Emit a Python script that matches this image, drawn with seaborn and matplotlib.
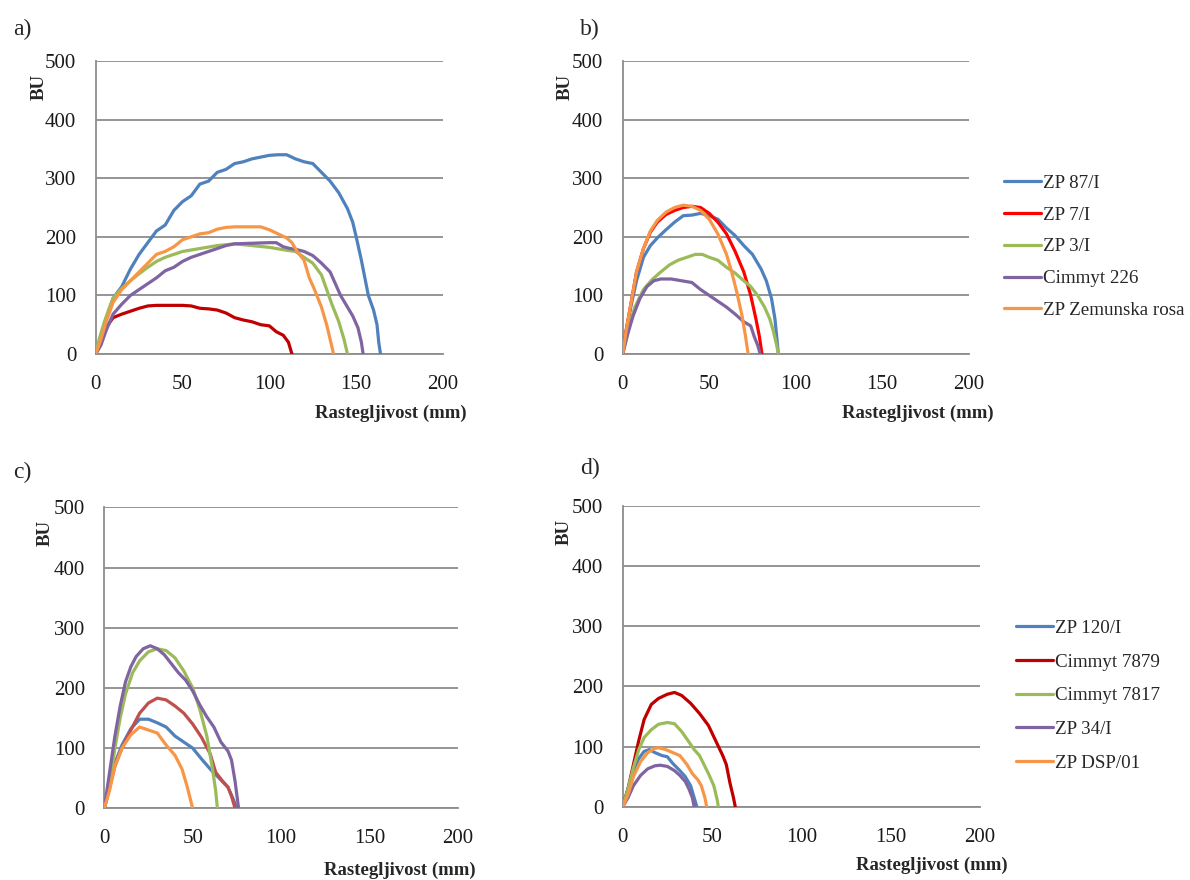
import numpy as np
import pandas as pd
import matplotlib
matplotlib.use("Agg")
import matplotlib.pyplot as plt
import seaborn as sns

# ---- donnees (x = rastegljivost mm, y = BU) ----
# a)
a_names = ["ZP 87/I", "ZP 7/I", "ZP 3/I", "Cimmyt 226", "ZP Zemunska rosa"]
a_87_x = [0, 5, 10, 15, 20, 25, 30, 35, 40, 45, 50, 55, 60, 65, 70, 75, 80, 85, 90, 95, 100, 105, 110,
          115, 120, 125, 130, 135, 140, 145, 148, 150, 153, 155, 157, 160, 162, 163, 164]
a_87_y = [0, 50, 95, 115, 145, 170, 190, 210, 220, 245, 260, 270, 290, 295, 310, 315, 325, 328, 333, 336, 339, 340, 340,
          333, 328, 325, 310, 295, 275, 248, 225, 200, 160, 130, 100, 75, 50, 20, 0]
a_7_x = [0, 3, 6, 10, 15, 20, 25, 30, 35, 40, 50, 55, 60, 65, 70, 75, 80, 85, 90, 95, 100, 104, 108, 111, 112, 113]
a_7_y = [0, 20, 45, 62, 68, 73, 78, 82, 83, 83, 83, 82, 78, 77, 75, 70, 62, 58, 55, 50, 48, 38, 32, 20, 10, 0]
a_3_x = [0, 2, 5, 8, 10, 15, 20, 25, 30, 35, 40, 45, 50, 60, 70, 80, 90, 100, 110, 115, 120, 125, 130, 133, 136, 140, 143, 145]
a_3_y = [0, 25, 55, 80, 95, 112, 125, 137, 148, 158, 165, 170, 175, 180, 185, 188, 185, 182, 177, 175, 165, 155, 135, 110, 85, 55, 25, 0]
a_226_x = [0, 3, 6, 10, 15, 20, 25, 30, 35, 40, 45, 50, 55, 60, 65, 70, 75, 80, 90, 100, 104, 108, 112, 116,
           120, 125, 130, 135, 138, 141, 145, 148, 151, 153, 154]
a_226_y = [0, 15, 40, 68, 85, 100, 110, 120, 130, 142, 148, 158, 165, 170, 175, 180, 185, 188, 189, 190, 190, 183, 180, 178,
           175, 168, 155, 140, 120, 100, 80, 65, 45, 20, 0]
a_zr_x = [0, 3, 6, 10, 15, 20, 25, 30, 35, 40, 45, 50, 55, 60, 65, 70, 75, 80, 90, 95, 100, 105, 110, 113,
          116, 120, 123, 126, 130, 133, 135, 137]
a_zr_y = [0, 25, 55, 88, 110, 125, 140, 155, 170, 175, 183, 195, 200, 205, 207, 213, 216, 217, 217, 217, 212, 205, 198, 190,
          175, 160, 130, 110, 80, 50, 25, 0]

# b)
b_87_x = [0, 2, 5, 8, 12, 16, 20, 25, 30, 35, 40, 45, 50, 55, 60, 65, 70, 75, 80, 83, 86, 88, 90]
b_87_y = [0, 40, 85, 125, 165, 185, 198, 212, 225, 236, 237, 240, 236, 230, 215, 202, 185, 170, 145, 125, 95, 60, 0]
b_7_x = [0, 2, 5, 8, 12, 16, 20, 25, 30, 35, 40, 45, 50, 55, 60, 65, 70, 74, 77, 79, 80.5]
b_7_y = [0, 40, 90, 140, 180, 208, 225, 238, 245, 250, 252, 250, 240, 225, 205, 175, 140, 100, 60, 30, 0]
b_3_x = [0, 3, 7, 12, 17, 22, 27, 32, 37, 42, 46, 50, 55, 60, 65, 70, 74, 78, 82, 85, 87, 89, 90]
b_3_y = [0, 40, 80, 110, 127, 140, 152, 160, 165, 170, 170, 165, 160, 148, 138, 125, 115, 100, 80, 60, 40, 15, 0]
b_226_x = [0, 3, 6, 10, 14, 18, 22, 28, 34, 40, 45, 50, 55, 60, 65, 70, 74, 76, 78, 79.5]
b_226_y = [0, 35, 65, 95, 115, 125, 128, 128, 125, 122, 110, 100, 90, 80, 68, 55, 48, 30, 15, 0]
b_zr_x = [0, 2, 5, 8, 12, 16, 20, 25, 30, 35, 40, 45, 50, 55, 60, 63, 66, 69, 71, 72.5]
b_zr_y = [0, 40, 90, 140, 180, 210, 228, 242, 250, 254, 252, 245, 230, 205, 170, 140, 105, 65, 30, 0]

# c)
c_names = ["ZP 120/I", "Cimmyt 7879", "Cimmyt 7817", "ZP 34/I", "ZP DSP/01"]
c_120_x = [0, 3, 6, 10, 15, 20, 25, 30, 35, 40, 45, 50, 55, 60, 65, 70, 73, 75]
c_120_y = [0, 35, 75, 105, 132, 148, 148, 142, 135, 120, 110, 100, 82, 65, 50, 35, 15, 0]
c_7879_x = [0, 3, 6, 10, 15, 20, 25, 30, 35, 40, 45, 50, 55, 60, 63, 67, 70, 72, 74]
c_7879_y = [0, 35, 70, 100, 130, 158, 175, 183, 180, 170, 158, 140, 118, 90, 60, 45, 35, 20, 0]
c_7817_x = [0, 3, 6, 9, 12, 16, 20, 25, 30, 35, 40, 45, 50, 54, 58, 61, 63, 64]
c_7817_y = [0, 40, 100, 150, 190, 225, 245, 260, 265, 262, 250, 228, 200, 165, 120, 70, 30, 0]
c_34_x = [0, 3, 6, 9, 12, 15, 18, 22, 26, 30, 34, 38, 42, 46, 50, 54, 58, 62, 66, 70, 72, 74, 76]
c_34_y = [0, 60, 120, 170, 210, 235, 252, 265, 270, 265, 255, 240, 225, 213, 195, 172, 152, 135, 110, 95, 80, 45, 0]
c_dsp_x = [0, 3, 6, 10, 15, 20, 25, 30, 35, 40, 44, 47, 50]
c_dsp_y = [0, 30, 70, 100, 122, 135, 130, 125, 105, 88, 65, 35, 0]

# d)
d_120_x = [0, 3, 6, 9, 12, 15, 18, 22, 25, 28, 32, 35, 38, 40, 41.5]
d_120_y = [0, 30, 60, 80, 92, 95, 90, 85, 83, 72, 60, 50, 35, 15, 0]
d_7879_x = [0, 3, 6, 9, 12, 16, 20, 25, 29, 33, 38, 43, 48, 52, 56, 58, 60, 62, 63]
d_7879_y = [0, 30, 70, 110, 145, 170, 180, 187, 190, 185, 172, 155, 135, 110, 85, 70, 40, 15, 0]
d_7817_x = [0, 3, 6, 9, 12, 16, 20, 25, 29, 33, 37, 40, 43, 45, 48, 51, 53, 53.5]
d_7817_y = [0, 30, 65, 95, 115, 128, 137, 140, 138, 125, 108, 95, 85, 73, 55, 35, 10, 0]
d_34_x = [0, 3, 6, 10, 14, 18, 21, 25, 29, 32, 35, 37, 39, 40]
d_34_y = [0, 15, 35, 52, 63, 68, 69, 67, 60, 52, 42, 30, 15, 0]
d_dsp_x = [0, 3, 6, 10, 14, 18, 20, 24, 28, 32, 36, 39, 42, 44, 46, 47]
d_dsp_y = [0, 20, 50, 75, 90, 97, 98, 95, 90, 85, 70, 55, 45, 35, 15, 0]

BLUE, GREEN, PURPLE, ORANGE = "#4F81BD", "#9BBB59", "#8064A2", "#F79646"

panels = [
    ("a)", a_names, [(a_87_x, a_87_y), (a_7_x, a_7_y), (a_3_x, a_3_y), (a_226_x, a_226_y), (a_zr_x, a_zr_y)],
     [BLUE, "#C00000", GREEN, PURPLE, ORANGE]),
    ("b)", a_names, [(b_87_x, b_87_y), (b_7_x, b_7_y), (b_3_x, b_3_y), (b_226_x, b_226_y), (b_zr_x, b_zr_y)],
     [BLUE, "#FF0000", GREEN, PURPLE, ORANGE]),
    ("c)", c_names, [(c_120_x, c_120_y), (c_7879_x, c_7879_y), (c_7817_x, c_7817_y), (c_34_x, c_34_y), (c_dsp_x, c_dsp_y)],
     [BLUE, "#C0504D", GREEN, PURPLE, ORANGE]),
    ("d)", c_names, [(d_120_x, d_120_y), (d_7879_x, d_7879_y), (d_7817_x, d_7817_y), (d_34_x, d_34_y), (d_dsp_x, d_dsp_y)],
     [BLUE, "#C00000", GREEN, PURPLE, ORANGE]),
]

sns.set_style("white")
plt.rcParams["font.family"] = ["Liberation Serif", "DejaVu Serif"]

GRID = "#8C8C8C"
fig = plt.figure(figsize=(11.9, 8.8), dpi=100)

# positions des axes en pixels (gauche, droite, bas, haut)
rects = [
    (95.7, 443.0, 354.0, 61.0),
    (622.7, 968.7, 354.0, 61.0),
    (104.3, 457.7, 808.3, 507.3),
    (622.7, 980.0, 806.7, 506.0),
]
xlab_pos = [(0.85, -0.174), (0.853, -0.174), (0.837, -0.176), (0.866, -0.167)]
bu_pos = [(-0.137, 0.91), (-0.141, 0.91), (-0.142, 0.915), (-0.139, 0.915)]
tag_pos = [(22, 29), (590, 29), (22, 472), (590, 468)]

axes = []
for i, (tag, names, series, colors) in enumerate(panels):
    l, r, b, t = rects[i]
    ax = fig.add_axes([l / 1190, (880 - b) / 880, (r - l) / 1190, (b - t) / 880])
    axes.append(ax)
    frames = []
    for name, (xs, ys) in zip(names, series):
        frames.append(pd.DataFrame({"x": xs, "y": ys, "sorta": name}))
    df = pd.concat(frames, ignore_index=True)
    sns.lineplot(data=df, x="x", y="y", hue="sorta", palette=dict(zip(names, colors)),
                 sort=False, estimator=None, linewidth=2.3, legend=False, ax=ax, zorder=3)

    ax.set_xlim(0, 200)
    ax.set_ylim(0, 500)
    ax.set_xticks([0, 50, 100, 150, 200])
    ax.set_yticks([0, 100, 200, 300, 400, 500])
    ax.yaxis.grid(True, color=GRID, linewidth=1.3)
    ax.xaxis.grid(False)
    ax.set_axisbelow(True)
    for s in ["top", "right"]:
        ax.spines[s].set_visible(False)
    for s in ["left", "bottom"]:
        ax.spines[s].set_color(GRID)
        ax.spines[s].set_linewidth(1.3)
    ax.tick_params(axis="both", direction="out", length=5, width=1.3, color=GRID,
                   labelsize=15, pad=9, labelcolor="#1a1a1a")
    ax.tick_params(axis="x", pad=10)
    ax.set_xlabel("Rastegljivost (mm)", fontsize=13.5, fontweight="bold")
    ax.xaxis.set_label_coords(*xlab_pos[i])
    ax.set_ylabel("BU", fontsize=13.5, fontweight="bold")
    ax.yaxis.set_label_coords(*bu_pos[i])
    fig.text(tag_pos[i][0] / 1190, 1 - tag_pos[i][1] / 880, tag, fontsize=17,
             ha="center", va="center")

# legendes a droite de b) et d)
for ax_src, names, xpix, ypix, lsp in [(axes[1], a_names, 996, 167, 0.76),
                                        (axes[3], c_names, 1008, 612, 0.86)]:
    fig.legend(ax_src.get_lines()[:5], names, loc="upper left",
               bbox_to_anchor=(xpix / 1190, 1 - ypix / 880),
               frameon=False, fontsize=13.7, handlelength=1.95, handletextpad=0.1,
               labelspacing=lsp, borderaxespad=0)

fig.savefig("out.png", dpi=100)
